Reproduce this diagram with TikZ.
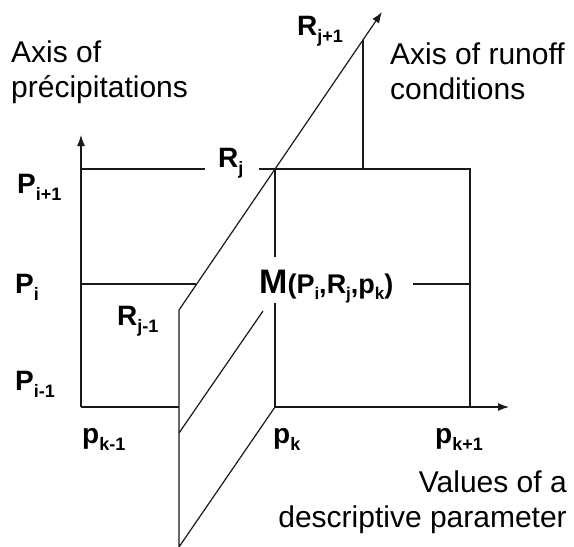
\documentclass[tikz,border=0pt]{standalone}
\usepackage{fontspec}
\setmainfont{Liberation Sans}
\usetikzlibrary{arrows.meta}
\definecolor{lineclr}{RGB}{25,25,25}
\definecolor{txtclr}{RGB}{0,0,0}
%% bold label with lowered index
\newcommand{\ixlbl}[2]{#1\raisebox{-7pt}{\fontsize{18}{18}\selectfont #2}}
\newcommand{\ixsml}[2]{#1\raisebox{-6pt}{\fontsize{17}{17}\selectfont #2}}
\tikzset{
  %% plain grid line
  gline/.style={line width=1.2pt,color=lineclr},
  %% axis with arrow
  axarr/.style={gline,-{Latex[length=11pt,width=8pt]}},
  %% axis caption
  capt/.style={inner sep=0pt,font=\fontsize{30}{35}\selectfont,text=txtclr},
  %% value label
  vlbl/.style={inner sep=0pt,anchor=base west,
    font=\fontsize{28}{28}\selectfont\bfseries,text=txtclr},
}

\begin{document}
\begin{tikzpicture}[x=1pt,y=-1pt]
  \useasboundingbox (0,0) rectangle (574,547);

  %% points of the grid
  \coordinate (o)     at (81,407);
  \coordinate (ytip)  at (81,135);
  \coordinate (ptop)  at (81,169);
  \coordinate (pmid)  at (81,284);
  \coordinate (pmidr) at (196,284);
  \coordinate (gapl)  at (205,169);
  \coordinate (gapr)  at (259,169);
  \coordinate (rj)    at (275,169);
  \coordinate (mtop)  at (275,257);
  \coordinate (mbot)  at (275,303);
  \coordinate (pk)    at (275,407);
  \coordinate (pkr)   at (470,407);
  \coordinate (pkrt)  at (470,169);
  \coordinate (mr)    at (413,284);
  \coordinate (mrr)   at (470,284);
  \coordinate (xtip)  at (509,407);
  %% plane of runoff conditions
  \coordinate (pl)    at (179,310);
  \coordinate (plb)   at (179,547);
  \coordinate (plm)   at (179,433);
  \coordinate (plo)   at (179,407);
  \coordinate (plmt)  at (263,311);
  \coordinate (rtip)  at (382,12);
  \coordinate (rjt)   at (363,40);
  \coordinate (rjb)   at (363,169);

  %% axes
  \draw[axarr] (o) -- (ytip);
  \draw[axarr] (pk) -- (xtip);
  \draw[axarr] (pl) -- (rtip);

  %% grid lines
  \draw[gline] (o) -- (plo);
  \draw[gline] (ptop) -- (gapl);
  \draw[gline] (gapr) -- (pkrt) -- (pkr);
  \draw[gline] (pmid) -- (pmidr);
  \draw[gline] (rj) -- (mtop);
  \draw[gline] (mbot) -- (pk);
  \draw[gline] (mr) -- (mrr);
  \draw[gline] (rjt) -- (rjb);

  %% plane
  \draw[gline] (pl) -- (plb) -- (pk);
  \draw[gline] (plm) -- (plmt);

  %% axis captions
  \node[capt,anchor=north west,align=left]  (capp) at (11,41)  {Axis of\\précipitations};
  \node[capt,anchor=north west,align=left]  (capr) at (390,43) {Axis of runoff\\conditions};
  \node[capt,anchor=north east,align=right] (capv) at (567,471) {Values of a\\descriptive parameter};

  %% values
  \node[vlbl] (pi1) at (17,193)  {\ixlbl{P}{i+1}};
  \node[vlbl] (pi)  at (15,293)  {\ixlbl{P}{i}};
  \node[vlbl] (pi0) at (15,390)  {\ixlbl{P}{i-1}};
  \node[vlbl] (rj1) at (297,35)  {\ixlbl{R}{j+1}};
  \node[vlbl] (rjl) at (218,167) {\ixlbl{R}{j}};
  \node[vlbl] (rj0) at (117,325) {\ixlbl{R}{j-1}};
  \node[vlbl] (pk0) at (82,443)  {\ixlbl{p}{k-1}};
  \node[vlbl] (pkl) at (273,443) {\ixlbl{p}{k}};
  \node[vlbl] (pk1) at (435,443) {\ixlbl{p}{k+1}};
  \node[vlbl] (mpt) at (259,293)
    {{\fontsize{34}{34}\selectfont M}{\fontsize{27}{27}\selectfont(\ixsml{P}{i},\ixsml{R}{j},\ixsml{p}{k})}};
\end{tikzpicture}
\end{document}
